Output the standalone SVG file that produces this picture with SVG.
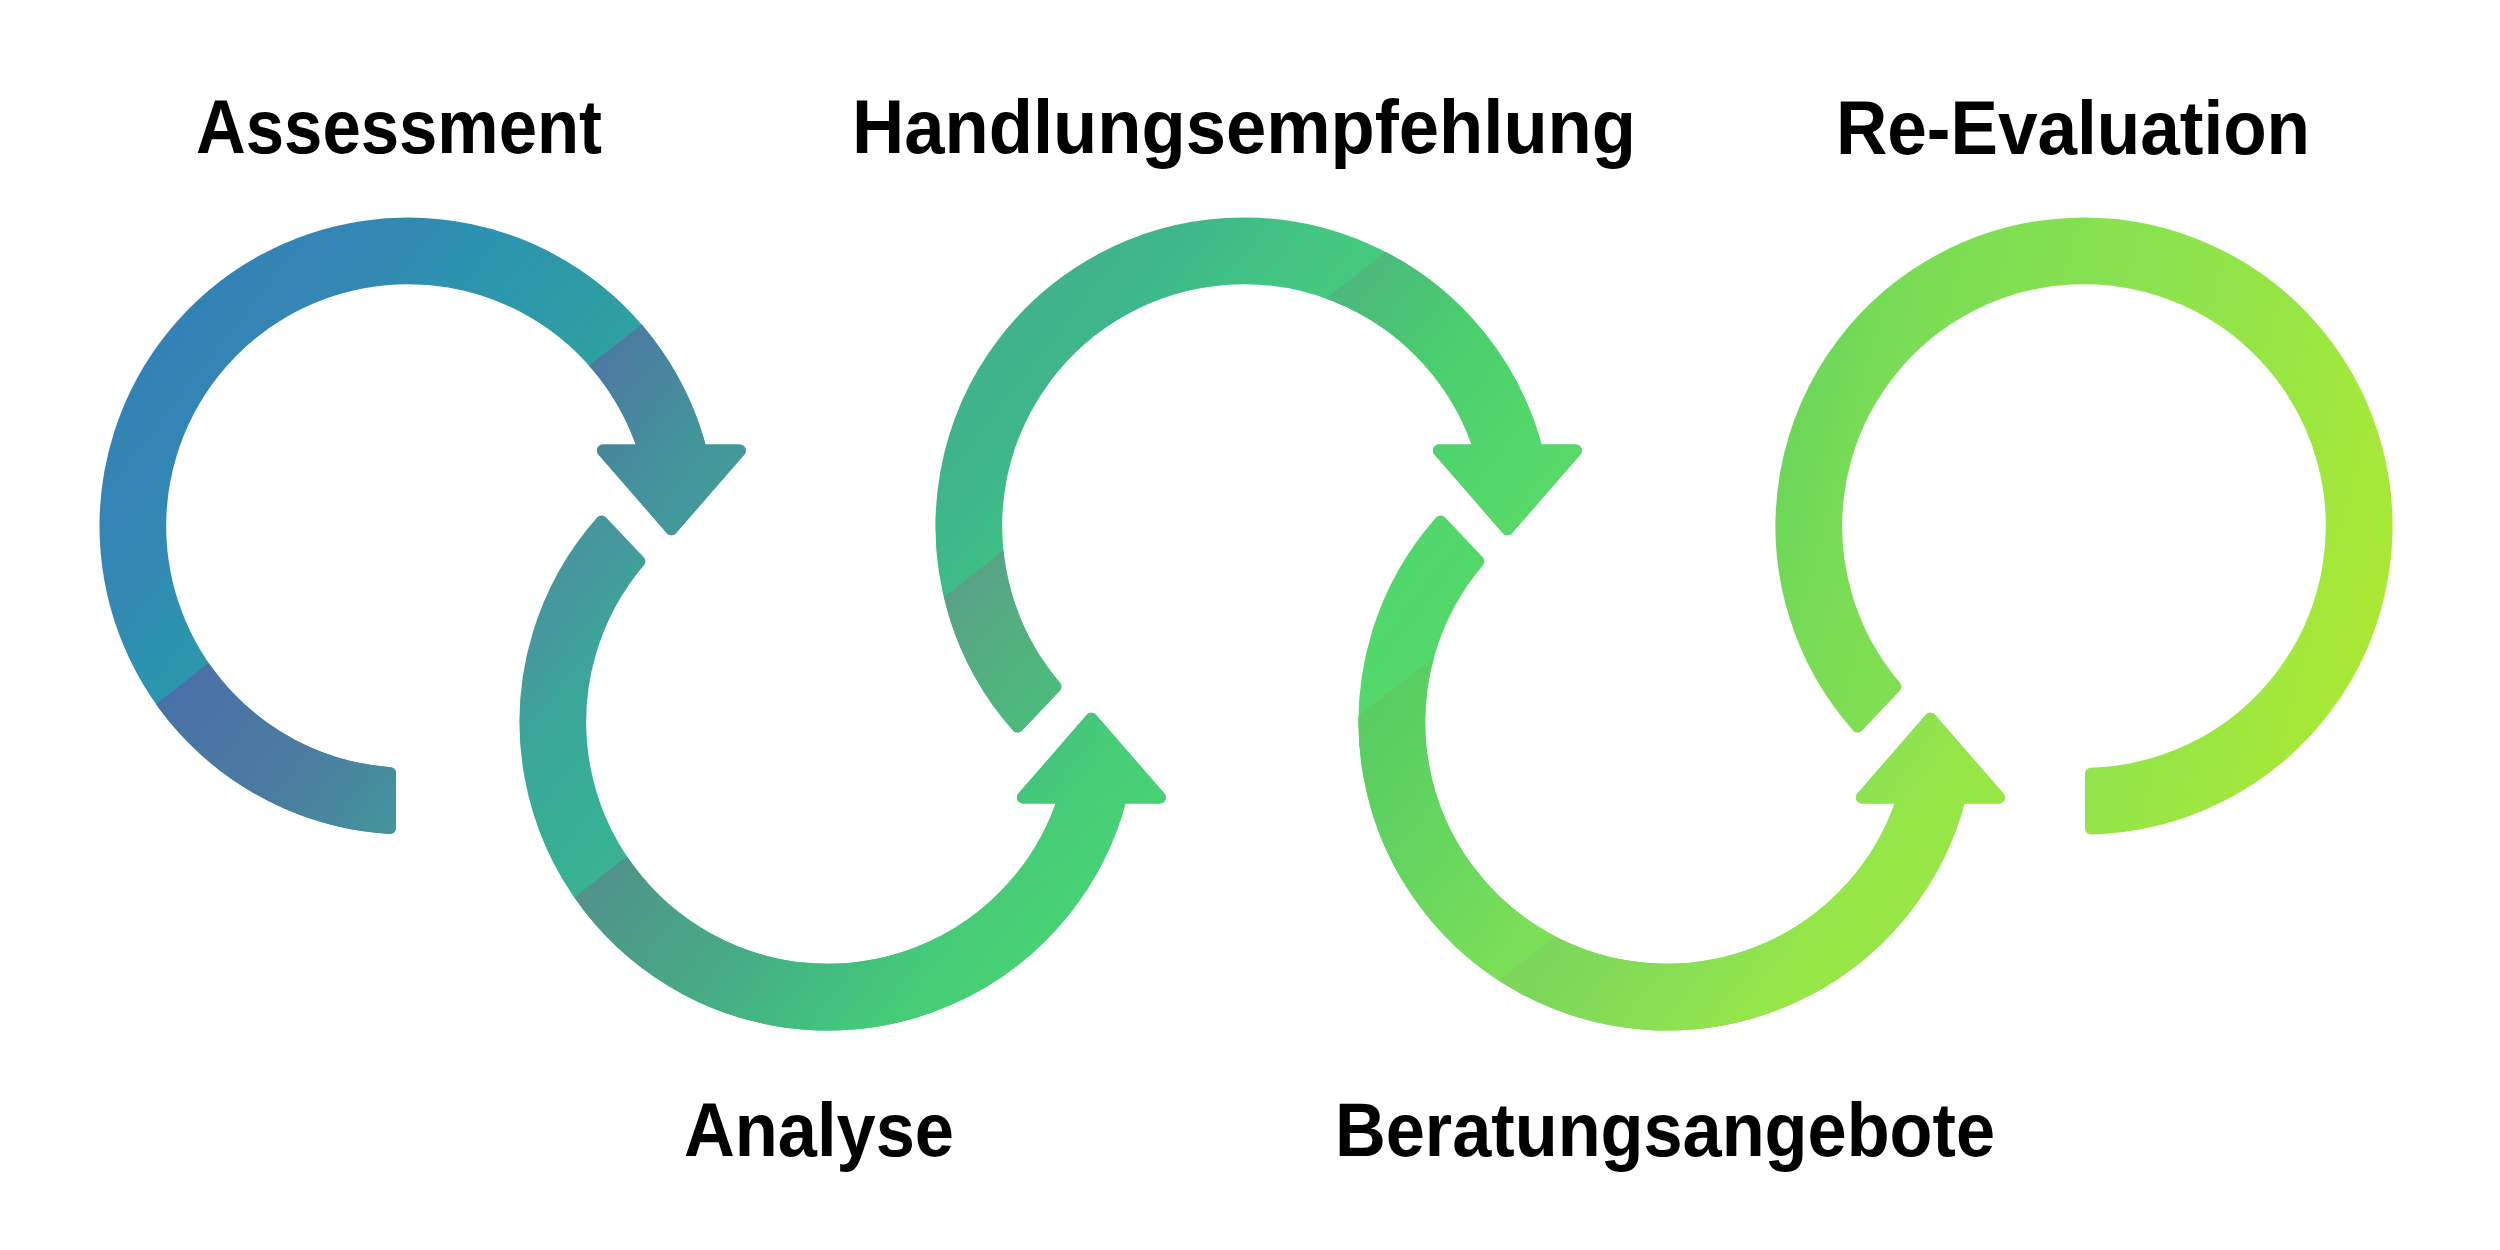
<svg xmlns="http://www.w3.org/2000/svg" width="2500" height="1250" viewBox="0 0 2500 1250">
<defs>
<style>
.lbl{font-family:"Liberation Sans",Arial,sans-serif;font-weight:700;font-size:76px;fill:#000}
.arw{stroke-width:12;stroke-linejoin:round}
</style>
<linearGradient id="g1" gradientUnits="userSpaceOnUse" x1="155.8" y1="328.9" x2="660.2" y2="723.1">
<stop offset="0" stop-color="#3381B5"/><stop offset="0.13" stop-color="#3485B5"/><stop offset="0.23" stop-color="#3389B2"/><stop offset="0.3" stop-color="#2C92B0"/><stop offset="0.53" stop-color="#2E9DA3"/><stop offset="0.7" stop-color="#30A6A0"/><stop offset="1" stop-color="#35B096"/>
</linearGradient>
<linearGradient id="b1" gradientUnits="userSpaceOnUse" x1="155.8" y1="328.9" x2="660.2" y2="723.1">
<stop offset="0" stop-color="#4A6CAA"/><stop offset="0.4" stop-color="#4A72A7"/><stop offset="0.6" stop-color="#4C7CA0"/><stop offset="0.75" stop-color="#43929C"/><stop offset="0.83" stop-color="#43999A"/><stop offset="1" stop-color="#40A596"/>
</linearGradient>
<linearGradient id="g2" gradientUnits="userSpaceOnUse" x1="575.8" y1="524.9" x2="1080.2" y2="919.1">
<stop offset="0" stop-color="#47959D"/><stop offset="0.074" stop-color="#45999C"/><stop offset="0.145" stop-color="#3CA59A"/><stop offset="0.29" stop-color="#37AF94"/><stop offset="0.5" stop-color="#3AB88E"/><stop offset="1" stop-color="#42C880"/>
</linearGradient>
<linearGradient id="b2" gradientUnits="userSpaceOnUse" x1="575.8" y1="524.9" x2="1080.2" y2="919.1">
<stop offset="0" stop-color="#56908C"/><stop offset="0.38" stop-color="#52938A"/><stop offset="0.4" stop-color="#4F968A"/><stop offset="0.6" stop-color="#47AA84"/><stop offset="0.77" stop-color="#42C080"/><stop offset="0.86" stop-color="#46CC77"/><stop offset="1" stop-color="#48D274"/>
</linearGradient>
<linearGradient id="g3" gradientUnits="userSpaceOnUse" x1="991.8" y1="328.9" x2="1496.2" y2="723.1">
<stop offset="0" stop-color="#41B18D"/><stop offset="0.14" stop-color="#3EB78A"/><stop offset="0.22" stop-color="#3FBE85"/><stop offset="0.31" stop-color="#44C681"/><stop offset="0.5" stop-color="#48CC7C"/><stop offset="1" stop-color="#50D870"/>
</linearGradient>
<linearGradient id="b3" gradientUnits="userSpaceOnUse" x1="991.8" y1="328.9" x2="1496.2" y2="723.1">
<stop offset="0" stop-color="#5C9C87"/><stop offset="0.2" stop-color="#5AA085"/><stop offset="0.23" stop-color="#58A584"/><stop offset="0.42" stop-color="#4CBB7A"/><stop offset="0.58" stop-color="#4BCE6E"/><stop offset="0.78" stop-color="#55D86A"/><stop offset="1" stop-color="#5CDC66"/>
</linearGradient>
<linearGradient id="g4" gradientUnits="userSpaceOnUse" x1="1414.8" y1="524.9" x2="1919.2" y2="919.1">
<stop offset="0" stop-color="#50D66C"/><stop offset="0.08" stop-color="#52D86A"/><stop offset="0.2" stop-color="#55DA68"/><stop offset="1" stop-color="#70DD5C"/>
</linearGradient>
<linearGradient id="b4a" gradientUnits="userSpaceOnUse" x1="1414.8" y1="524.9" x2="1919.2" y2="919.1">
<stop offset="0" stop-color="#58CC64"/><stop offset="0.16" stop-color="#5BCE62"/><stop offset="0.32" stop-color="#64D55F"/><stop offset="0.52" stop-color="#7ADE58"/><stop offset="0.7" stop-color="#82E154"/>
</linearGradient>
<linearGradient id="b4b" gradientUnits="userSpaceOnUse" x1="1414.8" y1="524.9" x2="1919.2" y2="919.1">
<stop offset="0.5" stop-color="#7AD45C"/><stop offset="0.63" stop-color="#7FD859"/><stop offset="0.79" stop-color="#8BE152"/><stop offset="0.88" stop-color="#95E648"/><stop offset="1" stop-color="#98E746"/>
</linearGradient>
<linearGradient id="g5" gradientUnits="userSpaceOnUse" x1="1774.9" y1="443.2" x2="2393.1" y2="608.8">
<stop offset="0" stop-color="#6CD65A"/><stop offset="0.06" stop-color="#70D858"/><stop offset="0.13" stop-color="#79DC55"/><stop offset="0.38" stop-color="#85E050"/><stop offset="0.52" stop-color="#8CE34E"/><stop offset="0.76" stop-color="#9AE642"/><stop offset="0.9" stop-color="#A5E83A"/><stop offset="1" stop-color="#AAE832"/>
</linearGradient>
<clipPath id="c1"><polygon points="0,826.1 800,200.8 800,900 0,900"/></clipPath>
<clipPath id="c2"><polygon points="450,994.7 1200,408.4 1200,1100 450,1100"/></clipPath>
<clipPath id="c3"><polygon points="850,670.6 1650,45.2 1650,900 850,900"/></clipPath>
<clipPath id="c4a"><polygon points="1300,761.7 2050,175.4 2050,549.7 1300,1136"/></clipPath>
<clipPath id="c4b"><polygon points="1300,1136 2050,549.7 2050,1140 1300,1140"/></clipPath>
<path id="r1" d="M 390,827.96 A 302.5 302.5 0 1 1 700.93,450.5 L 739.85,450.5 L 671.4,529.35 L 602.95,450.5 L 644.02,450.5 A 247.8 247.8 0 1 0 390,773.15 Z"/>
<path id="r2" d="M 601.58,521.4 A 302.5 302.5 0 1 0 1120.93,797.5 L 1159.85,797.5 L 1091.4,718.65 L 1022.95,797.5 L 1064.02,797.5 A 247.8 247.8 0 1 1 639.41,561.26 Z"/>
<path id="r3" d="M 1017.58,726.6 A 302.5 302.5 0 1 1 1536.93,450.5 L 1575.85,450.5 L 1507.4,529.35 L 1438.95,450.5 L 1480.02,450.5 A 247.8 247.8 0 1 0 1055.41,686.74 Z"/>
<path id="r4" d="M 1440.58,521.4 A 302.5 302.5 0 1 0 1959.93,797.5 L 1998.85,797.5 L 1930.4,718.65 L 1861.95,797.5 L 1903.02,797.5 A 247.8 247.8 0 1 1 1478.41,561.26 Z"/>
<path id="r5" d="M 1857.58,726.6 A 302.5 302.5 0 1 1 2091,828.42 L 2091,773.7 A 247.8 247.8 0 1 0 1895.41,686.74 Z"/>
</defs>
<rect width="2500" height="1250" fill="#FFFFFF"/>
<g id="connectors">
<g id="arrow-assessment">
<use href="#r1" class="arw" fill="url(#g1)" stroke="url(#g1)"/>
<use href="#r1" class="arw" fill="url(#b1)" stroke="url(#b1)" clip-path="url(#c1)"/>
</g>
<g id="arrow-analyse">
<use href="#r2" class="arw" fill="url(#g2)" stroke="url(#g2)"/>
<use href="#r2" class="arw" fill="url(#b2)" stroke="url(#b2)" clip-path="url(#c2)"/>
</g>
<g id="arrow-handlungsempfehlung">
<use href="#r3" class="arw" fill="url(#g3)" stroke="url(#g3)"/>
<use href="#r3" class="arw" fill="url(#b3)" stroke="url(#b3)" clip-path="url(#c3)"/>
</g>
<g id="arrow-beratungsangebote">
<use href="#r4" class="arw" fill="url(#g4)" stroke="url(#g4)"/>
<use href="#r4" class="arw" fill="url(#b4a)" stroke="url(#b4a)" clip-path="url(#c4a)"/>
<use href="#r4" class="arw" fill="url(#b4b)" stroke="url(#b4b)" clip-path="url(#c4b)"/>
</g>
<g id="arrow-reevaluation">
<use href="#r5" class="arw" fill="url(#g5)" stroke="url(#g5)"/>
</g>
</g>
<g id="node-assessment"><text class="lbl" x="196" y="153" textLength="406" lengthAdjust="spacingAndGlyphs">Assessment</text></g>
<g id="node-handlungsempfehlung"><text class="lbl" x="852" y="153" textLength="784" lengthAdjust="spacingAndGlyphs">Handlungsempfehlung</text></g>
<g id="node-reevaluation"><text class="lbl" x="1836" y="154" textLength="474" lengthAdjust="spacingAndGlyphs">Re-Evaluation</text></g>
<g id="node-analyse"><text class="lbl" x="684" y="1156" textLength="270" lengthAdjust="spacingAndGlyphs">Analyse</text></g>
<g id="node-beratungsangebote"><text class="lbl" x="1335" y="1156" textLength="660" lengthAdjust="spacingAndGlyphs">Beratungsangebote</text></g>
</svg>
